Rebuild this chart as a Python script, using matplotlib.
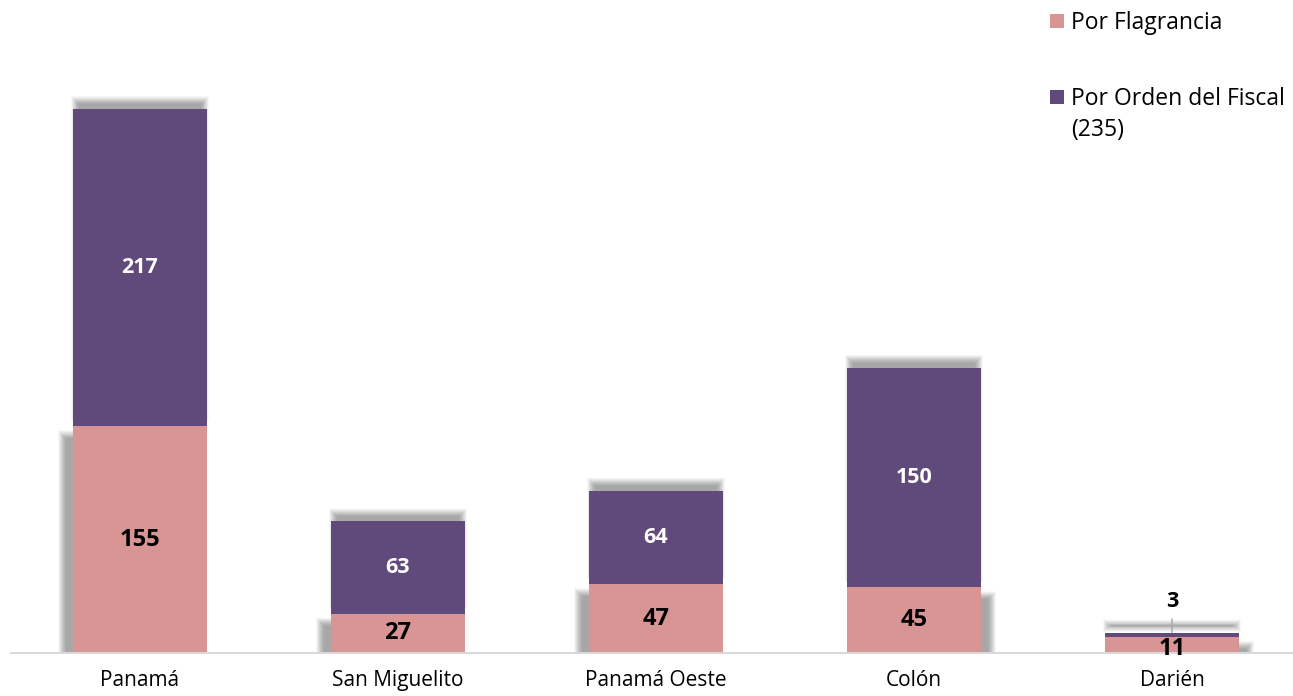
import matplotlib.pyplot as plt
import numpy as np
from matplotlib.patches import Rectangle

categories = ['Panamá', 'San Miguelito', 'Panamá Oeste', 'Colón', 'Darién']
flagrancia = [155, 27, 47, 45, 11]
orden_fiscal = [217, 63, 64, 150, 3]
legend_labels = ['Por Flagrancia', 'Por Orden del Fiscal\n(235)']

PINK = '#D99594'
PURPLE = '#604A7B'

plt.rcParams['font.family'] = ['Open Sans', 'DejaVu Sans']

W, H = 1293, 696
fig = plt.figure(figsize=(W / 100, H / 100), dpi=100)
ax = fig.add_axes([11 / W, 43 / H, 1290 / W, 653 / H])
ax.set_xlim(-0.5, 4.5)
ax.set_ylim(0, 653 / 1.462)

# pixel size in data units
PX_X = 5.0 / 1290
PX_Y = (653 / 1.462) / 653


def soft_shadow(x0, y0, w, h, blur=4, n=24, alpha=0.4):
    for s in np.linspace(-blur, blur, n):
        dx, dy = s * PX_X, s * PX_Y
        ax.add_patch(Rectangle((x0 + dx, y0 + dy), w - 2 * dx, h - 2 * dy,
                               facecolor='black', alpha=alpha / n, lw=0,
                               antialiased=False, zorder=1))


width = 0.52
x = np.arange(len(categories))
flag = np.array(flagrancia)
orden = np.array(orden_fiscal)

# shadows behind the segments
for i in x:
    left = i - width / 2
    soft_shadow(left + 2 * PX_X, flag[i] + 9 * PX_Y, width - 4 * PX_X, orden[i])
    side = -11 if i < 3 else 11
    soft_shadow(left + side * PX_X, -8 * PX_Y, width, flag[i])

ax.bar(x, flag, width, color=PINK, zorder=2, label=legend_labels[0])
ax.bar(x, orden, width, bottom=flag, color=PURPLE, zorder=2, label=legend_labels[1])

# value labels
for i in x:
    dy = -4 if i == 4 else 0
    ax.annotate(str(flag[i]), (i, flag[i] / 2), xytext=(0, dy), textcoords='offset pixels',
                ha='center', va='center', fontsize=17, fontweight='bold', color='black', zorder=5)
    if i < 4:
        ax.text(i, flag[i] + orden[i] / 2, str(orden[i]), ha='center', va='center',
                fontsize=15.5, fontweight='bold', color='white', zorder=5)
    else:
        ax.annotate(str(orden[i]), (i, flag[i] + orden[i]), xytext=(0, 31),
                    textcoords='offset pixels', ha='center', va='center',
                    fontsize=15.5, fontweight='bold', color='black', zorder=5,
                    arrowprops=dict(arrowstyle='-', color='#A6A6A6', lw=1,
                                    shrinkA=3, shrinkB=0))

ax.axhline(0, color='#D9D9D9', lw=1.5, zorder=3, clip_on=False)
for sp in ax.spines.values():
    sp.set_visible(False)
ax.set_yticks([])
ax.set_xticks(x)
ax.set_xticklabels(categories, fontsize=15)
ax.tick_params(axis='x', length=0, pad=12)

# legend
colors = [PINK, PURPLE]
ys = [21, 97]
for c, lab, yc in zip(colors, legend_labels, ys):
    fig.add_artist(Rectangle((1050 / W, 1 - (yc + 7) / H), 14 / W, 14 / H,
                             facecolor=c, lw=0, transform=fig.transFigure))
    fig.text(1071 / W, 1 - (yc - 10) / H, lab, ha='left', va='top', fontsize=16.5,
             linespacing=1.4)

fig.savefig('out.png', dpi=100)
